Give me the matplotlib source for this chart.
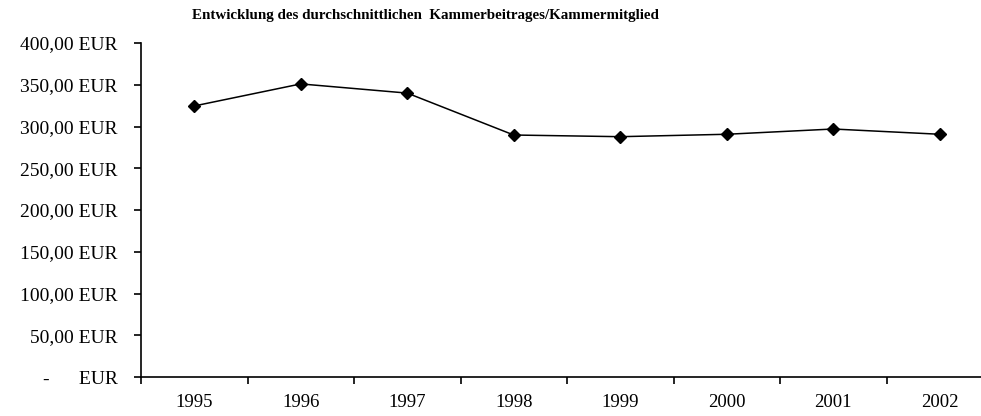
import matplotlib
matplotlib.use("Agg")
import matplotlib.pyplot as plt
from matplotlib.ticker import FixedLocator

years = ["1995", "1996", "1997", "1998", "1999", "2000", "2001", "2002"]
beitrag = [324.6, 351.0, 340.0, 289.8, 287.8, 290.7, 297.0, 290.7]
yticks = [0, 50, 100, 150, 200, 250, 300, 350, 400]
ylabels = ["-      EUR", "50,00 EUR", "100,00 EUR", "150,00 EUR", "200,00 EUR",
           "250,00 EUR", "300,00 EUR", "350,00 EUR", "400,00 EUR"]
title = "Entwicklung des durchschnittlichen  Kammerbeitrages/Kammermitglied"

plt.rcParams['font.family'] = ['Liberation Serif', 'DejaVu Serif']

fig = plt.figure(figsize=(9.81, 4.16), dpi=100)
ax = fig.add_axes([141/981, 39/416, 852/981, 334/416])

x = list(range(len(years)))
ax.plot(x, beitrag, color='black', lw=1.1, marker='D', markersize=6.5,
        markerfacecolor='black', markeredgecolor='black')

ax.set_xlim(-0.5, len(years) - 0.5)
ax.set_ylim(0, 400)
ax.set_yticks(yticks)
ax.set_yticklabels(ylabels)
ax.set_xticks(x)
ax.set_xticklabels(years)
ax.xaxis.set_minor_locator(FixedLocator([i - 0.5 for i in range(len(years) + 1)]))
ax.tick_params(axis='x', which='major', length=0, pad=12, labelsize=13.5)
ax.tick_params(axis='x', which='minor', length=5, width=1.2, direction='out')
ax.tick_params(axis='y', length=5, width=1.2, direction='out', pad=12, labelsize=14)

for s in ['top', 'right']:
    ax.spines[s].set_visible(False)
for s in ['left', 'bottom']:
    ax.spines[s].set_linewidth(1.2)

fig.text(425/981, 1 - 15/416, title, ha='center', va='center',
         fontsize=10.8, fontweight='bold')

fig.savefig("out.png", dpi=100)
